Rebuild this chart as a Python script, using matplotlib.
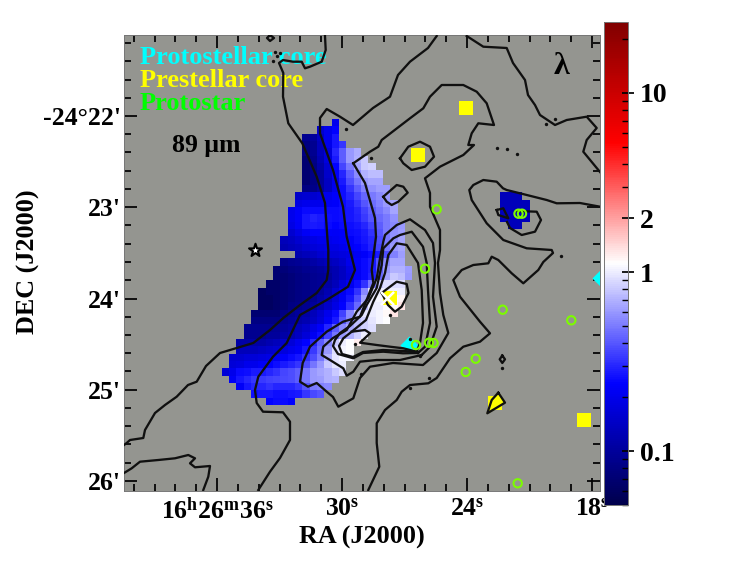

import matplotlib

matplotlib.use("Agg")
import matplotlib.pyplot as plt
import numpy as np
from matplotlib.colors import LogNorm
from matplotlib.ticker import FixedLocator, NullFormatter

plt.rcParams["font.family"] = ["Liberation Serif", "DejaVu Sans"]
plt.rcParams["font.weight"] = "bold"
plt.rcParams["mathtext.fontset"] = "custom"
plt.rcParams["mathtext.rm"] = "Liberation Serif:bold"
plt.rcParams["mathtext.default"] = "rm"

# map cells: row -> (first column, values); 7.33 px per cell on the source figure
MAP_ROWS = {
    0: (15, [.2]),
    1: (13, [.16, .2, .24]),
    2: (11, [.09, .1, .14, .2, .27]),
    3: (11, [.08, .09, .13, .2, .27, .33]),
    4: (11, [.08, .09, .13, .18, .3, .42, .6, .68]),
    5: (11, [.07, .085, .12, .18, .28, .42, .6, .7, .8]),
    6: (11, [.07, .08, .11, .16, .24, .36, .5, .65, .8, .85]),
    7: (11, [.07, .08, .1, .15, .22, .3, .42, .55, .7, .75, .75]),
    8: (11, [.07, .08, .1, .14, .2, .28, .38, .48, .6, .65, .65]),
    9: (11, [.08, .085, .1, .14, .2, .26, .33, .42, .52, .58, .62, .62]),
    10: (10, [.15, .16, .16, .17, .2, .23, .26, .3, .36, .44, .5, .55, .6]),
    11: (10, [.19, .2, .2, .2, .22, .23, .25, .28, .33, .4, .46, .52, .6, .65]),
    12: (9, [.2, .23, .25, .25, .25, .25, .25, .26, .27, .3, .35, .42, .48, .55, .65]),
    13: (9, [.2, .23, .27, .29, .28, .26, .25, .26, .27, .29, .34, .4, .45, .5, .58]),
    14: (9, [.19, .22, .27, .28, .27, .25, .24, .25, .26, .27, .3, .35, .42, .5, .55, .6]),
    15: (9, [.16, .19, .22, .24, .24, .23, .22, .23, .25, .26, .28, .32, .4, .5, .58, .62]),
    16: (8, [.13, .14, .16, .18, .19, .2, .2, .21, .22, .23, .25, .27, .3, .38, .5, .58, .65]),
    17: (8, [.12, .13, .14, .16, .17, .18, .19, .19, .2, .22, .24, .26, .29, .36, .5, .6, .65]),
    18: (10, [.12, .13, .14, .16, .17, .17, .18, .19, .21, .23, .25, .28, .38, .52, .62]),
    19: (8, [.085, .09, .095, .1, .11, .12, .13, .14, .16, .2, .23, .25, .28, .4, .55, .65, .65]),
    20: (7, [.07, .075, .08, .085, .09, .095, .1, .11, .12, .14, .18, .22, .25, .28, .42, .6, .7, .7, .62]),
    21: (7, [.07, .07, .075, .08, .085, .09, .095, .1, .12, .14, .17, .22, .25, .29, .45, .65, .8, .75, .6]),
    22: (6, [.065, .065, .07, .075, .08, .085, .09, .095, .11, .13, .17, .21, .26, .32, .5, .8, .9, .9, .9]),
    23: (5, [.06, .065, .065, .07, .075, .08, .085, .09, .1, .12, .16, .21, .25, .32, .55, .9, 1.0, 1.0, 1.0, 1.0]),
    24: (5, [.06, .06, .065, .07, .075, .08, .085, .09, .11, .13, .17, .22, .27, .38, .65, 1.0, 1.05, 1.1, 1.1, 1.2]),
    25: (5, [.06, .06, .065, .07, .08, .085, .09, .1, .12, .15, .19, .24, .32, .45, .75, 1.0, 1.0, 1.1, 1.15, 1.3]),
    26: (4, [.07, .07, .07, .07, .08, .09, .1, .11, .13, .16, .2, .25, .35, .55, .8, .95, 1.0, 1.05, 1.15, 1.3]),
    27: (4, [.08, .08, .08, .08, .09, .1, .11, .12, .14, .17, .22, .28, .4, .55, .75, .85, .95, 1.05, 1.1]),
    28: (3, [.09, .09, .09, .09, .095, .1, .11, .13, .15, .19, .23, .3, .42, .55, .65, .75, .85, .9]),
    29: (3, [.09, .09, .09, .1, .1, .11, .12, .14, .17, .21, .26, .35, .48, .6, .7, .85, 1.0]),
    30: (2, [.11, .11, .11, .11, .12, .13, .15, .17, .2, .24, .3, .42, .55, .8, 1.0, 1.1, 1.25]),
    31: (2, [.13, .13, .13, .14, .15, .16, .18, .2, .22, .27, .34, .45, .6, .9, 1.05, 1.1]),
    32: (1, [.16, .16, .17, .17, .18, .19, .21, .23, .25, .27, .32, .38, .5, .7, .95, 1.05, 1.05]),
    33: (1, [.17, .18, .2, .2, .22, .24, .26, .28, .3, .33, .38, .48, .6, .8, .95, 1.0]),
    34: (0, [.17, .2, .25, .26, .28, .28, .3, .32, .36, .38, .42, .5, .6, .65, .7, .8, .9]),
    35: (1, [.22, .27, .3, .33, .34, .35, .36, .37, .38, .42, .5, .6, .62, .7, .72]),
    36: (2, [.22, .27, .3, .3, .32, .3, .3, .3, .33, .4, .5, .52, .55]),
    37: (4, [.26, .27, .27, .26, .26, .27, .28, .33, .37, .4]),
    38: (6, [.24, .25, .25, .24]),
}
# isolated patch around the source on the right
PATCH_ROWS = {
    10: (38, [.13, .13, .13]),
    11: (38, [.13, .13, .13, .13]),
    12: (38, [.13, .13, .13, .13]),
    13: (38, [.13, .13, .13, .13]),
    14: (39, [.13, .13]),
}

# contour levels, traced as (x, y) from the figure
C_NW = [(325, 36), (325.7, 50), (321.7, 61.7), (310, 66.7), (305, 68.3), (301.7, 61.7), (293, 61.7), (283, 60),
        (279, 63), (283.3, 73), (283, 96.7), (288.3, 123.3), (302.3, 143.3), (316.7, 176.7), (325, 203),
        (327.3, 236.7), (328.3, 250), (328.3, 270), (326.7, 280), (316.7, 293), (300, 305), (283.3, 318), (270, 330),
        (253.3, 343), (236.7, 348), (220, 353), (206, 366), (196.7, 381.7), (188, 385), (176.7, 396.7), (165, 405),
        (155, 413), (145, 430), (143.3, 438), (130, 440), (126.7, 443), (124, 445)]
C_MID = [(436.7, 36), (428, 48), (410, 61.7), (398, 75), (390, 96.7), (373, 108), (353, 125), (340, 116.7),
         (326.7, 109), (320, 118), (320, 133.3), (333, 170), (343, 206.7), (346.7, 236.7), (350, 250), (355, 270),
         (348, 286.7), (326.7, 300), (300, 315), (286.7, 343), (273, 356.7), (258.3, 376.7), (255, 390),
         (256.7, 403), (263, 411.7), (283, 412.3), (290, 421.7), (290, 440), (280, 458), (270, 471.7), (258.3, 490)]
C_NE = [(466.7, 36), (483.3, 46.7), (506.7, 48), (513, 63), (525, 80), (528, 95), (535, 105), (540, 115), (555, 125),
        (566.7, 120), (586.7, 116.7), (596.7, 128), (586.7, 140), (583.3, 151.7), (600, 172)]
C_BIG = [(353.3, 163.3), (370, 151.7), (378.3, 146.7), (381.7, 140), (410, 118.3), (423.3, 108.3), (430, 96.7),
         (441.7, 85), (463.3, 85), (476.7, 91.7), (486.7, 103.3), (494, 125), (478.3, 123.3), (471.7, 133.3),
         (468.3, 145), (474, 145), (463.3, 155), (440, 166.7), (425, 178.3), (430, 193), (430, 206.7), (440, 230),
         (440, 250), (438, 263), (440, 293), (443.3, 315), (448.3, 333), (436.7, 353), (423, 365), (393, 363),
         (370, 366.7), (360, 378), (353.3, 398.3), (338.3, 406.7), (333, 397), (326.7, 391.7), (316.7, 383),
         (308, 386.7), (300, 381.7), (302.7, 363), (310, 346.7), (326.7, 331.7), (343, 321.7), (360, 316.7),
         (373.3, 283), (371.7, 270), (373.3, 256.7), (376, 236.7), (375, 218), (365, 183), (353.3, 163.3)]
C_A = [(421.7, 355), (430, 346.7), (436.7, 326.7), (433, 296.7), (435, 263), (433, 243), (425, 230), (410, 219.3),
       (396.7, 225), (385, 235), (383.3, 241.7), (380, 258.3), (376.7, 278.3), (368.3, 298.3), (356.7, 311.7),
       (346.7, 330), (333, 338), (323.3, 346.7), (321.7, 355), (330, 360), (343.3, 368.3), (346.7, 375.7),
       (353.3, 371.7), (360, 361.7), (376.7, 360), (400, 360), (421.7, 355)]
C_B = [(418, 353), (425, 346.7), (430, 323), (428, 290), (426.7, 263), (423, 246.7), (411.7, 231.7), (400, 235),
       (393.3, 238.3), (383.3, 248.3), (381.7, 265), (376.7, 288), (366.7, 305), (361.7, 315), (350, 326), (340, 333),
       (335, 340), (333, 346), (338, 354), (353.3, 358.3), (363, 353), (383.3, 351.7), (403, 353.3), (418, 353)]
C_C = [(416.7, 351.7), (420, 343), (423, 323), (421.7, 290), (418, 263), (406.7, 245), (396.7, 243.3), (388.3, 255),
       (385, 273), (380, 288), (373.3, 301.7), (366, 320), (351.7, 331.7), (343.3, 338.3), (339, 346), (342, 354),
       (353, 357), (363, 352), (383, 350), (403, 351), (416.7, 351.7)]
C_D = [(351.7, 331.7), (365, 330), (370, 333.3), (360, 342.7), (376.7, 345), (390, 346.7), (403.3, 348.3),
       (416.7, 351.7)]
C_PEAK = [(381.7, 293), (388.3, 288), (396.7, 281.7), (406.7, 284), (408.5, 293), (401.7, 306.7), (395, 311.7),
          (388, 305), (381.7, 293)]
C_SE = [(600, 206.7), (580, 203), (556.7, 203.3), (546.7, 200), (520, 193.3), (506.7, 190), (503, 188.3),
        (496.7, 181.7), (483.3, 180), (473.3, 185), (469.3, 190), (471.7, 200), (486.7, 223.3), (503.3, 240),
        (526.7, 248.3), (551.7, 250), (553, 253), (543.3, 262), (538.3, 270), (523.3, 283.3), (511.7, 273.3),
        (498.3, 260), (491.7, 256.7), (488.3, 263.3), (473.3, 265), (461.7, 270), (453.3, 280), (460, 296.7),
        (480, 321.7), (490, 333.3), (480, 341.7), (463.3, 346.7), (450, 358.3), (436.7, 378), (428.3, 383.3),
        (410, 385), (401.7, 391.7), (396.7, 400), (385, 410), (376.7, 423.3), (376.7, 443), (379.3, 466.7),
        (368.3, 490)]
C_SW = [(124, 473), (131.7, 468.3), (140, 461.7), (158.3, 460), (175, 458.3), (188.3, 455), (195, 458.3), (190, 463.3),
        (195, 467.3), (210, 466), (208.3, 476.7), (203.3, 490)]
C_CORE2 = [(400, 158.3), (408.3, 146.7), (420, 141.7), (430, 146.7), (434, 156.7), (425, 166.7), (411.7, 170),
           (403.3, 163.3), (400, 158.3)]
C_SMALL = [(383.3, 196.7), (396.7, 185), (403.3, 186.7), (407.7, 192.7), (398.3, 201.7), (391.7, 205), (386.7, 201.7),
           (383.3, 196.7)]
C_HOOK = [(516.7, 211), (536.7, 211.7), (541, 220), (535, 231.7), (521.7, 235), (510, 228), (507, 222)]
C_BLOB = [(496.7, 210), (503.3, 208.3), (508.3, 218.3), (498.3, 215), (496.7, 210)]
C_KITE = [(498.3, 392.7), (505, 402.7), (487.3, 413.3), (491.7, 400), (498.3, 392.7)]
C_DIAMOND = [(502.3, 355.5), (505, 359.3), (502.3, 363), (499.7, 359.3), (502.3, 355.5)]
C_TOP = [(270, 35), (267, 38), (270, 41), (274, 38), (270, 35)]
CONTOURS = [C_NW, C_MID, C_NE, C_BIG, C_A, C_B, C_C, C_D, C_PEAK, C_SE, C_SW, C_CORE2, C_SMALL, C_HOOK, C_BLOB,
            C_KITE, C_DIAMOND, C_TOP]
CONTOUR_DOTS = [(275, 51.7), (280, 52.7), (276.7, 56), (272.7, 61), (345.7, 129.3), (370.7, 158.3), (497.3, 148.3),
                (506.7, 149), (516.7, 153.7), (561, 255.7), (545.7, 124), (555, 119.3), (390, 315), (410, 339.3),
                (355, 344.3), (360.7, 373.7), (429.3, 378.3), (410, 388.3), (420, 356), (502.3, 368)]

# sources
PRESTELLAR = [(465.7, 107.7), (418.3, 155), (584.3, 419.7), (495, 403.3), (390, 297.5)]
PROTOSTELLAR = [(409, 345), (601, 278)]
PROTOSTARS = [(436.7, 209.3), (425, 268.7), (502.7, 309.7), (571.3, 320.3), (475.7, 358.7), (465.7, 372), (517.7, 483.3),
              (433.5, 343), (429, 342.7), (518.5, 213.7), (522, 213.7), (416, 345)]
STAR = (254.7, 250)
CROSS = (387.3, 297.7)
KEY_LABELS = ["Protostellar core", "Prestellar core", "Protostar"]
KEY_COLOURS = ["cyan", "yellow", "lime"]
KEY_Y = [57, 80, 103]

W, H = 731, 585
AX_L, AX_R, AX_T, AX_B = 124, 600, 35, 491
CB_L, CB_R, CB_T, CB_B = 604, 628, 21.7, 505
GREY = "#949590"


def to_ra(x):
    # 30s sits at x=342, 6s = 125 px
    return 30 - (np.asarray(x, dtype=float) - 342) / (125 / 6)


def to_dec(y):
    # 22' sits at y=116, 1' = 91.25 px
    return 22 + (np.asarray(y, dtype=float) - 116) / 91.25


def sky(points):
    pts = np.array(points)
    return to_ra(pts[:, 0]), to_dec(pts[:, 1])


def build_map():
    grid = np.full((39, 42), np.nan)
    for rows in (MAP_ROWS, PATCH_ROWS):
        for r, (start, vals) in rows.items():
            grid[r, start : start + len(vals)] = vals
    return np.ma.masked_invalid(grid)


fig = plt.figure(figsize=(W / 100, H / 100), dpi=100)
ax = fig.add_axes([AX_L / W, 1 - AX_B / H, (AX_R - AX_L) / W, (AX_B - AX_T) / H])
ax.set_facecolor(GREY)

x_edges = to_ra(221.7 + 7.33 * np.arange(43))
y_edges = to_dec(119 + 7.33 * np.arange(40))
norm = LogNorm(vmin=0.05, vmax=25)
mesh = ax.pcolormesh(x_edges, y_edges, build_map(), cmap="seismic", norm=norm, zorder=1)

ax.set_xlim(to_ra(AX_L), to_ra(AX_R))
ax.set_ylim(to_dec(AX_B), to_dec(AX_T))

for text, colour, y in zip(KEY_LABELS, KEY_COLOURS, KEY_Y):
    ax.text(to_ra(140), to_dec(y), text, color=colour, fontsize=19, va="center", ha="left", zorder=1.5)
ax.text(to_ra(172), to_dec(145), "89 μm", color="black", fontsize=18.5, va="center", ha="left", zorder=1.5)
ax.text(to_ra(561), to_dec(66), "λ", color="black", fontsize=23, va="center", ha="center", zorder=1.5)

px, py = sky(PRESTELLAR)
ax.scatter(px, py, marker="s", s=112, c="yellow", linewidths=0, zorder=2)
px, py = sky(PROTOSTELLAR)
ax.scatter(px, py, marker="D", s=85, c="cyan", linewidths=0, zorder=2)

kx, ky = sky(C_KITE)
ax.fill(kx, ky, color="yellow", zorder=2.1)
for line in CONTOURS:
    lx, ly = sky(line)
    ax.plot(lx, ly, color="#101010", lw=1.65, solid_joinstyle="round", zorder=3)
dx, dy = sky(CONTOUR_DOTS)
ax.scatter(dx, dy, s=6, c="#101010", linewidths=0, zorder=3)

px, py = sky(PROTOSTARS)
ax.scatter(px, py, marker="o", s=36, facecolors="none", edgecolors="#7cfc00", linewidths=1.5, zorder=4)
ax.scatter(to_ra(STAR[0]), to_dec(STAR[1]), marker="*", s=95, facecolors="white", edgecolors="black", linewidths=1.5,
           zorder=4)
ax.scatter(to_ra(CROSS[0]), to_dec(CROSS[1]), marker="x", s=90, c="white", linewidths=1.8, zorder=4)

# RA axis
ax.set_xticks([36, 30, 24, 18])
ax.set_xticklabels([r"$16^{h}26^{m}36^{s}$", r"$30^{s}$", r"$24^{s}$", r"$18^{s}$"])
ax.xaxis.set_minor_locator(FixedLocator(np.arange(18, 41, 1)))
# DEC axis
ax.set_yticks([22, 23, 24, 25, 26])
ax.set_yticklabels(["-24°22'", "23'", "24'", "25'", "26'"])
ax.yaxis.set_minor_locator(FixedLocator(np.arange(21.2, 26.2, 0.2)))
ax.tick_params(which="both", direction="in", top=True, right=True, color="black", width=1.25)
ax.tick_params(which="major", length=9.5)
ax.tick_params(which="minor", length=5)
ax.tick_params(axis="x", which="major", labelsize=18.5, pad=5)
ax.tick_params(axis="y", which="major", labelsize=18.5, pad=2)
for spine in ax.spines.values():
    spine.set_color("#777777")
    spine.set_linewidth(0.7)

ax.set_xlabel("RA (J2000)", fontsize=18.8, fontweight="bold")
ax.xaxis.set_label_coords(0.5, (AX_B - 537) / (AX_B - AX_T), transform=ax.transAxes)
ax.xaxis.label.set_va("center")
ax.set_ylabel("DEC (J2000)", fontsize=18.8, fontweight="bold")
ax.yaxis.set_label_coords((28 - AX_L) / (AX_R - AX_L), 0.502, transform=ax.transAxes)
ax.yaxis.label.set_va("center")

# colour bar
cax = fig.add_axes([CB_L / W, 1 - CB_B / H, (CB_R - CB_L) / W, (CB_B - CB_T) / H])
cbar = fig.colorbar(mesh, cax=cax)
cbar.set_ticks([0.1, 1, 2, 10])
cbar.set_ticklabels(["0.1", "1", "2", "10"])
cax.yaxis.set_minor_locator(
    FixedLocator([.05, .06, .07, .08, .09, .2, .3, .4, .5, .6, .7, .8, .9, 3, 4, 5, 6, 7, 8, 9, 20])
)
cax.yaxis.set_minor_formatter(NullFormatter())
cax.tick_params(which="major", direction="inout", length=9, width=1.25, labelsize=20, pad=4)
cax.tick_params(which="minor", direction="in", length=4.5, width=1.0)
cbar.outline.set_edgecolor("#777777")
cbar.outline.set_linewidth(0.7)

fig.savefig("out.png", dpi=100)
plt.close(fig)
